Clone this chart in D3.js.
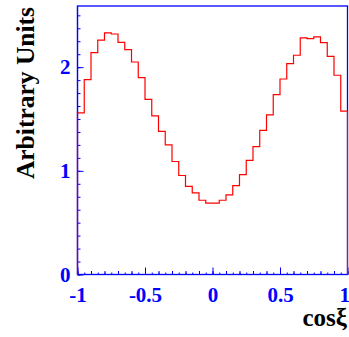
<!DOCTYPE html>
<html>
<head>
<meta charset="utf-8">
<script src="https://cdn.jsdelivr.net/npm/d3@7"></script>
<style>
  html, body { margin: 0; padding: 0; background: #fff; }
  svg { display: block; }
  text { font-family: "Liberation Serif", "DejaVu Serif", serif; font-weight: bold; }
</style>
</head>
<body>
<svg id="chart" width="349" height="337"></svg>
<script>
// Histogram of cos(xi): 40 bins of width 0.05 from -1 to 1
const binEdgesStart = -1;
const binWidth = 0.05;
const binValues = [
  1.56, 1.88, 2.14, 2.26, 2.33, 2.32, 2.24, 2.17, 2.05, 1.90,
  1.69, 1.53, 1.38, 1.25, 1.09, 0.955, 0.85, 0.787, 0.716, 0.688,
  0.688, 0.716, 0.768, 0.858, 0.964, 1.10, 1.234, 1.39, 1.54, 1.736,
  1.886, 2.035, 2.115, 2.282, 2.276, 2.292, 2.237, 2.105, 1.922, 1.575
];
const xMajorTicks = [-1, -0.5, 0, 0.5, 1];
const xTickLabels = ["-1", "-0.5", "0", "0.5", "1"];
const yMajorTicks = [0, 1, 2];
const yTickLabels = ["0", "1", "2"];
const xTitle = "cos\u03BE";
const yTitle = "Arbitrary Units";

const svg = d3.select("#chart");
const plotLeft = 77.5, plotRight = 347.5, plotTop = 6, plotBottom = 274.5;
const x = d3.scaleLinear().domain([-1, 1]).range([plotLeft, plotRight]);
const y = d3.scaleLinear().domain([0, 2.59]).range([plotBottom, plotTop]);

const blue = "#0000ff";
const red = "#ff0000";

// Step outline of the histogram
const pts = [[binEdgesStart, 0]];
binValues.forEach((v, i) => {
  const x0 = binEdgesStart + i * binWidth;
  pts.push([x0, v], [x0 + binWidth, v]);
});
pts.push([binEdgesStart + binValues.length * binWidth, 0]);
const line = d3.line().x(d => x(d[0])).y(d => y(d[1]));

// Frame
svg.append("rect")
  .attr("x", plotLeft).attr("y", plotTop)
  .attr("width", plotRight - plotLeft).attr("height", plotBottom - plotTop)
  .attr("fill", "none").attr("stroke", blue).attr("stroke-width", 1.3);

// Axes with inward ticks
const xMinor = d3.range(-1, 1.0001, 0.05).map(v => +v.toFixed(2));
const xMid = d3.range(-1, 1.0001, 0.1).map(v => +v.toFixed(2));
const gx = svg.append("g").attr("transform", `translate(0,${plotBottom})`);
[[xMinor, 2], [xMid, 3.5], [xMajorTicks, 7]].forEach(([vals, len]) => {
  gx.append("g")
    .call(d3.axisBottom(x).tickValues(vals).tickSizeInner(-len).tickSizeOuter(0).tickFormat(""))
    .call(g => g.select(".domain").remove())
    .call(g => g.selectAll("line").attr("stroke", blue).attr("stroke-width", 1));
});
gx.append("g")
  .call(d3.axisBottom(x).tickValues(xMajorTicks).tickSize(0).tickPadding(13)
    .tickFormat((d, i) => xTickLabels[i]))
  .call(g => g.select(".domain").remove())
  .call(g => g.selectAll("text")
    .attr("fill", blue).attr("font-size", 21)
    .attr("font-family", "Liberation Serif").attr("font-weight", "bold"))
  // keep the last label inside the page edge
  .call(g => g.selectAll("text").filter(d => d === 1).attr("text-anchor", "end").attr("dx", 2));

const yMinor = d3.range(0, 2.59, 0.125);
const gy = svg.append("g").attr("transform", `translate(${plotLeft},0)`);
[[yMinor, 3], [yMajorTicks, 6]].forEach(([vals, len]) => {
  gy.append("g")
    .call(d3.axisLeft(y).tickValues(vals).tickSizeInner(-len).tickSizeOuter(0).tickFormat(""))
    .call(g => g.select(".domain").remove())
    .call(g => g.selectAll("line").attr("stroke", blue).attr("stroke-width", 1));
});
gy.append("g")
  .call(d3.axisLeft(y).tickValues(yMajorTicks).tickSize(0).tickPadding(7)
    .tickFormat((d, i) => yTickLabels[i]))
  .call(g => g.select(".domain").remove())
  .call(g => g.selectAll("text")
    .attr("fill", blue).attr("font-size", 21)
    .attr("font-family", "Liberation Serif").attr("font-weight", "bold"));

// Histogram outline
svg.append("path")
  .attr("d", line(pts))
  .attr("fill", "none").attr("stroke", red).attr("stroke-width", 1.2);

// Left frame edge over the histogram edge
svg.append("line")
  .attr("x1", plotLeft).attr("x2", plotLeft).attr("y1", plotTop).attr("y2", plotBottom)
  .attr("stroke", blue).attr("stroke-opacity", 0.5).attr("stroke-width", 1.3);

// Titles
svg.append("text")
  .attr("x", plotRight - 0.5).attr("y", 326)
  .attr("text-anchor", "end").attr("font-size", 25).attr("fill", "#000")
  .text(xTitle);

svg.append("text")
  .attr("transform", `translate(34,7) rotate(-90)`)
  .attr("text-anchor", "end").attr("font-size", 25.5).attr("fill", "#000")
  .text(yTitle);
</script>
</body>
</html>
